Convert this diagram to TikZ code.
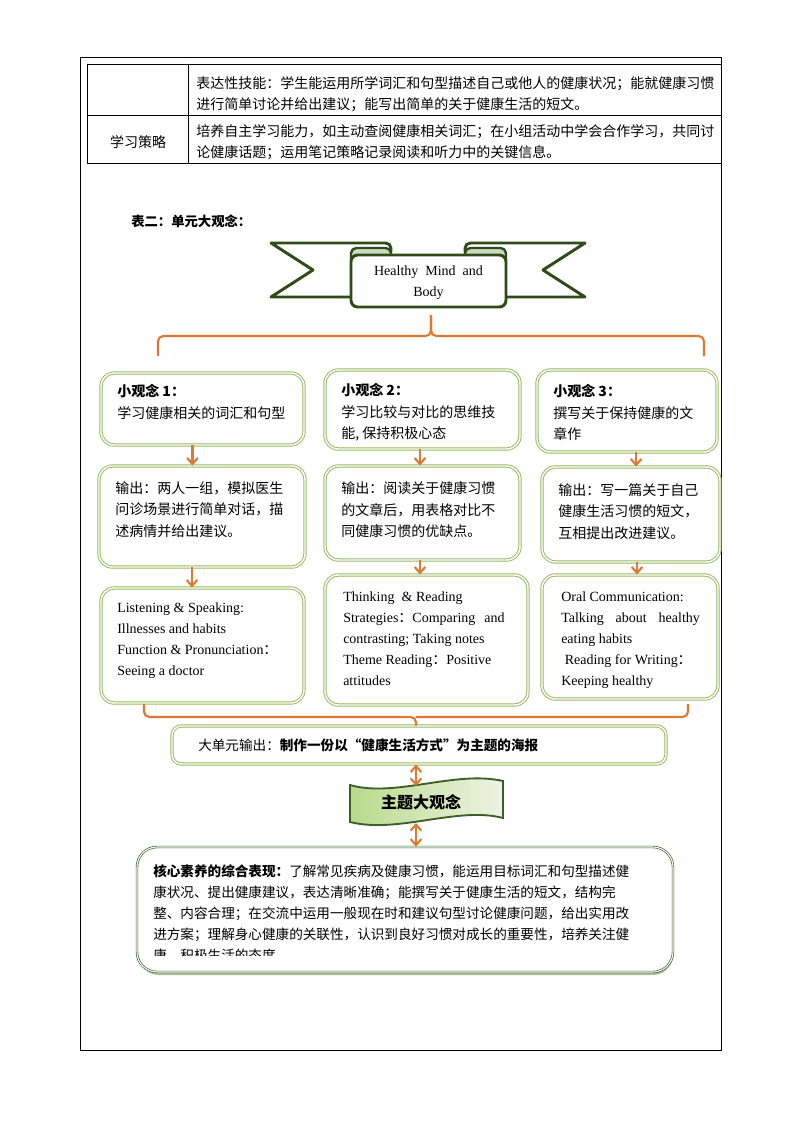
\documentclass[tikz,border=0pt]{standalone}
\usepackage{fontspec}
\setmainfont{Liberation Serif}
\newfontfamily\cjk{Noto Sans CJK SC}
\usetikzlibrary{arrows.meta,fit}

\definecolor{braceorange}{RGB}{221,121,49}
\definecolor{boxgreen}{RGB}{150,185,95}
\definecolor{ribbongreen}{RGB}{46,75,24}
\definecolor{coregreen}{RGB}{60,95,40}
\definecolor{shadowgreen}{RGB}{170,190,150}
\definecolor{curlgreen}{RGB}{205,218,195}
\definecolor{wavedark}{RGB}{185,218,140}
\definecolor{wavelight}{RGB}{238,243,228}

\begin{document}
\begin{tikzpicture}[
    x=0.75pt, y=-0.75pt,
    cell/.style={draw=black, line width=0.6pt},
    ideabox/.style={draw=boxgreen, double=white, double distance=1.1pt, line width=0.7pt, rounded corners=10pt, inner sep=0pt},
    corebox/.style={draw=coregreen, double=white, double distance=0.8pt, line width=0.5pt, rounded corners=15pt, fill=white, inner sep=0pt},
    ribbon/.style={draw=ribbongreen, line width=2.2pt, line join=round, fill=white},
    zh/.style={font=\cjk\fontsize{10.5}{16}\selectfont, align=left, anchor=north west, inner sep=0pt},
    en/.style={font=\fontsize{10.5}{15.75}\selectfont, align=left, anchor=north west, inner sep=0pt},
    brace/.style={draw=braceorange, line width=1.6pt, rounded corners=4pt},
    flow/.style={draw=braceorange, line width=1.6pt, -{Straight Barb[length=4.5pt,width=8pt]}},
    twoway/.style={draw=braceorange, line width=1.6pt, {Straight Barb[length=4.5pt,width=8pt]}-{Straight Barb[length=4.5pt,width=8pt]}},
]
\useasboundingbox (0,0) rectangle (794,1123);

% ---- 表格 ----
\draw[cell] (80,57) rectangle (721,1050);
\draw[cell] (87,64) -- (721,64) (87,115) -- (721,115) (87,163) -- (721,163)
            (87,64) -- (87,163) (188,64) -- (188,163);
\node[zh, font=\cjk\fontsize{10.5}{15.75}\selectfont] (skill) at (196,76.5)
    {表达性技能：学生能运用所学词汇和句型描述自己或他人的健康状况；能就健康习惯\\
     进行简单讨论并给出建议；能写出简单的关于健康生活的短文。};
\node[font=\cjk\fontsize{10.5}{15.75}\selectfont, inner sep=0pt] (stratname) at (138,142) {学习策略};
\node[zh, font=\cjk\fontsize{10.5}{15.75}\selectfont] (strat) at (196,124.5)
    {培养自主学习能力，如主动查阅健康相关词汇；在小组活动中学会合作学习，共同讨\\
     论健康话题；运用笔记策略记录阅读和听力中的关键信息。};

\node[font=\cjk\bfseries\fontsize{10}{12}\selectfont, anchor=west, inner sep=0pt] (heading) at (131,221) {表二：单元大观念：};

% ---- 标题丝带 ----
\draw[ribbon] (355,297) -- (271,297) -- (313,270) -- (271,243) -- (385,243)
    [rounded corners=4pt] -- (391,243) -- (391,252);
\draw[ribbon] (502,297) -- (585,297) -- (543,270) -- (585,243) -- (471,243)
    [rounded corners=4pt] -- (465,243) -- (465,252);
\draw[ribbon, fill=curlgreen, line width=1.8pt, rounded corners=4pt] (351,248) rectangle (391,264);
\draw[ribbon, fill=curlgreen, line width=1.8pt, rounded corners=4pt] (465,248) rectangle (506,264);
\node[ribbon, rounded corners=5pt, inner sep=0pt, fit={(351,255) (506,307)}] (title) {};
\node[font=\fontsize{10.5}{15.75}\selectfont, align=center, inner sep=0pt] (titlet) at (428.5,283) {Healthy~~Mind~~and\\Body};

% ---- 上方括线 ----
\coordinate (bt) at (431,315);
\coordinate (bl) at (158,356);
\coordinate (br) at (704,356);
\draw[brace] (bl) -- ++(0,-20) -| (bt);
\draw[brace] (br) -- ++(0,-20) -| (bt);

% ---- 小观念 ----
\node[ideabox, fit={(101,373) (304,445)}] (i1) {};
\node[ideabox, fit={(325,370) (520,449)}] (i2) {};
\node[ideabox, fit={(537,370) (717,452)}] (i3) {};
\node[zh] (i1t) at (117,384.5) {{\bfseries 小观念 1：}\\学习健康相关的词汇和句型};
\node[zh] (i2t) at (341,383.5) {{\bfseries 小观念 2：}\\学习比较与对比的思维技\\能, 保持积极心态};
\node[zh] (i3t) at (553,384.5) {{\bfseries 小观念 3：}\\撰写关于保持健康的文\\章作};

% ---- 输出 ----
\node[ideabox, fit={(99,466) (305,567)}] (o1) {};
\node[ideabox, fit={(325,466) (520,560)}] (o2) {};
\node[ideabox, fit={(542,467) (720,562)}] (o3) {};
\node[zh] (o1t) at (115,481.5) {输出：两人一组，模拟医生\\问诊场景进行简单对话，描\\述病情并给出建议。};
\node[zh] (o2t) at (341,481.5) {输出：阅读关于健康习惯\\的文章后，用表格对比不\\同健康习惯的优缺点。};
\node[zh] (o3t) at (558,483.5) {输出：写一篇关于自己\\健康生活习惯的短文，\\互相提出改进建议。};

% ---- 课型 ----
\node[ideabox, fit={(101,588) (304,703)}] (s1) {};
\node[ideabox, fit={(325,575) (528,705)}] (s2) {};
\node[ideabox, fit={(542,575) (718,699)}] (s3) {};
\node[en] (s1t) at (117,602.5) {Listening \& Speaking:\\Illnesses and habits\\Function \& Pronunciation{\cjk ：}\\Seeing a doctor};
\node[en] (s2t) at (343,591.5) {Thinking~~\& Reading\\\makebox[121pt][s]{Strategies{\cjk ：}Comparing and}\\contrasting; Taking notes\\Theme Reading{\cjk ：}Positive\\attitudes};
\node[en] (s3t) at (561,591.5) {Oral Communication:\\\makebox[104pt][s]{Talking about healthy}\\eating habits\\~Reading for Writing{\cjk ：}\\Keeping~healthy};

% ---- 箭头 ----
\draw[flow] ([xshift=-7.5pt]i1.south) -- ([xshift=-7.5pt]i1.south |- o1.north);
\draw[flow] ([xshift=-1.9pt]i2.south) -- ([xshift=-1.9pt]i2.south |- o2.north);
\draw[flow] ([xshift=6.8pt]i3.south) -- ([xshift=6.8pt]i3.south |- o3.north);
\draw[flow] ([xshift=-7.5pt]o1.south) -- ([xshift=-7.5pt]o1.south |- s1.north);
\draw[flow] ([xshift=-1.9pt]o2.south) -- ([xshift=-1.9pt]o2.south |- s2.north);
\draw[flow] ([xshift=4.5pt]o3.south) -- ([xshift=4.5pt]o3.south |- s3.north);

% ---- 大单元输出 ----
\node[ideabox, rounded corners=7pt, fit={(172,726) (666,764)}] (bigout) {};
\node[font=\cjk\fontsize{10.2}{12}\selectfont, anchor=west, inner sep=0pt] (bigoutt) at (198,745)
    {大单元输出：\textbf{制作一份以“健康生活方式”为主题的海报}};

% ---- 下方括线 ----
\coordinate (cl) at (144,704);
\coordinate (cr) at (688,704);
\coordinate (bm) at (416,717);
\draw[brace] (cl) |- (bm) -- (bm |- bigout.north);
\draw[brace] (cr) |- (bm);

% ---- 主题大观念 ----
\shade[left color=wavedark, right color=wavelight, draw=coregreen, line width=1.4pt]
    (350,785) .. controls (395,798) and (455,770) .. (503,781)
    -- (503,818) .. controls (458,806) and (398,834) .. (350,822) -- cycle;
\node[font=\cjk\bfseries\fontsize{12}{14}\selectfont, inner sep=0pt] (theme) at (421,802) {主题大观念};
\coordinate (wt) at (416,786);
\coordinate (wb) at (416,823);

% ---- 核心素养 ----
\fill[shadowgreen, rounded corners=15pt] (139,851) rectangle (673,975);
\node[corebox, fit={(137,847) (673,972)}] (core) {};
\begin{scope}
\clip (140,850) rectangle (670,955);
\node[zh, font=\cjk\fontsize{10.2}{15.8}\selectfont] (coret) at (153,864)
    {\textbf{核心素养的综合表现：}了解常见疾病及健康习惯，能运用目标词汇和句型描述健\\
     康状况、提出健康建议，表达清晰准确；能撰写关于健康生活的短文，结构完\\
     整、内容合理；在交流中运用一般现在时和建议句型讨论健康问题，给出实用改\\
     进方案；理解身心健康的关联性，认识到良好习惯对成长的重要性，培养关注健\\
     康、积极生活的态度。};
\end{scope}

\draw[twoway] (wt) -- (wt |- bigout.south);
\draw[twoway] (wb) -- (wb |- core.north);

\end{tikzpicture}
\end{document}
